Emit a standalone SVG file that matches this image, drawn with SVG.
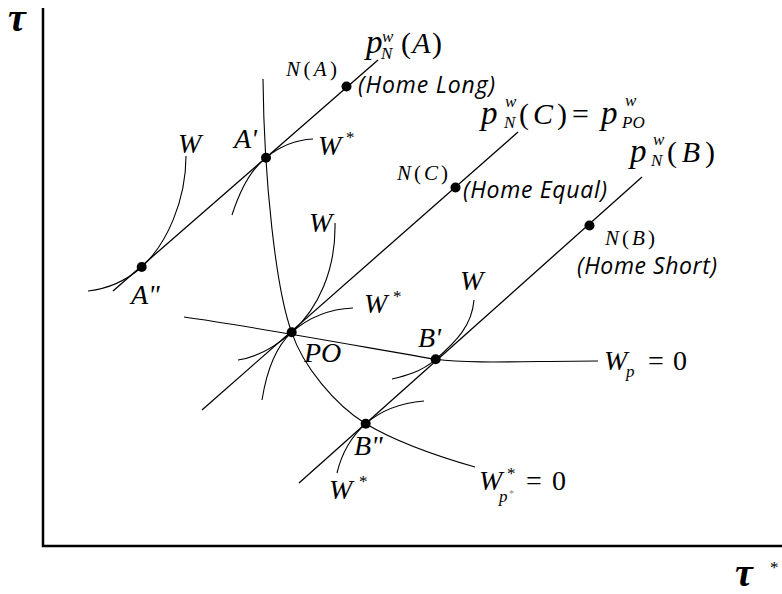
<svg xmlns="http://www.w3.org/2000/svg" width="782" height="594" viewBox="0 0 782 594">
<style>
.bg{fill:#fff}
.ax{stroke:#000;stroke-width:2.5;fill:none}
.ln{stroke:#000;stroke-width:1.3;fill:none}
.cv{stroke:#000;stroke-width:1.1;fill:none}
.dot{fill:#000}
.m{font-family:"Liberation Serif","Times New Roman",serif;font-style:italic;fill:#000}
.r{font-family:"Liberation Serif","Times New Roman",serif;font-style:normal;fill:#000}
.big{font-size:28px}
.pp{font-size:33px}
.par{font-size:30px}
.mid{font-size:21px}
.sm{font-size:17px}
.hs{font-family:"Open Sans","Noto Sans",sans-serif;font-style:italic;font-size:23px;fill:#000}
.tau{font-family:"Liberation Serif","Times New Roman",serif;font-style:italic;font-weight:bold;font-size:40px;fill:#000}
</style>
<rect class="bg" x="0" y="0" width="782" height="594"/>

<g id="axes">
  <path class="ax" d="M43,8 L43,546 L782,546"/>
  <text class="tau" x="8" y="31">τ</text>
  <text class="tau" x="735" y="586">τ</text>
  <text class="r sm" x="770" y="573">*</text>
</g>

<g id="connectors">
  <path id="pA" class="ln" d="M113,291 L378,60"/>
  <path id="pC" class="ln" d="M202,410 L518,132"/>
  <path id="pB" class="ln" d="M299,483 L642,177"/>
  <path id="Wpstar0" class="cv" d="M263,79 C264,180 276,290 291.7,332.3 C303,366 335,405 365.7,423.7 C400,444 440,457 475,467"/>
  <path id="Wp0" class="cv" d="M184,317 C250,326 380,350 435.7,359.3 C470,364 530,361 598,361"/>
  <path id="WstarA1" class="cv" d="M232,215 C240,190 250,170 266,157.7 C280,146 295,140 313,139"/>
  <path id="WA2" class="cv" d="M186,156 C186,200 167,244 141.7,267 C125,282 105,289 88,291"/>
  <path id="WPO" class="cv" d="M335,223 C336,270 318,309 291.7,332.3 C275,347 258,357 238,360"/>
  <path id="WstarPO" class="cv" d="M262,400 C266,375 274,348 291.7,332.3 C308,318 330,309 353,308"/>
  <path id="WB1" class="cv" d="M474,300 C472,325 457,341 435.7,359.3 C421,372 405,376 392,379"/>
  <path id="WstarB2" class="cv" d="M424,401 C400,403 382,409.5 365.7,423.7 C352,436 342,452 337,473"/>
</g>

<g id="node-NA">
  <circle class="dot" cx="346.5" cy="86.5" r="5"/>
  <text class="m mid" x="286" y="76" textLength="51" lengthAdjust="spacing">N<tspan class="r">(</tspan>A<tspan class="r">)</tspan></text>
  <text class="hs" x="358" y="93" textLength="137" lengthAdjust="spacing">(Home Long)</text>
</g>
<g id="label-pA">
  <text class="m pp" x="366" y="53">p</text>
  <text class="m sm" x="382" y="42">w</text>
  <text class="m sm" x="381" y="59">N</text>
  <text class="r par" x="401" y="53" textLength="41" lengthAdjust="spacing">(<tspan class="m">A</tspan>)</text>
</g>

<g id="node-Aprime">
  <circle class="dot" cx="266" cy="157.7" r="5"/>
  <text class="m big" x="234" y="148">A'</text>
  <text class="m big" x="318" y="155">W</text>
  <text class="r sm" x="346" y="143">*</text>
</g>
<g id="node-A2">
  <circle class="dot" cx="141.7" cy="267" r="5"/>
  <text class="m big" x="131" y="304">A"</text>
  <text class="m big" x="178" y="153">W</text>
</g>

<g id="node-NC">
  <circle class="dot" cx="455.5" cy="187.5" r="5"/>
  <text class="m mid" x="397" y="180" textLength="51" lengthAdjust="spacing">N<tspan class="r">(</tspan>C<tspan class="r">)</tspan></text>
  <text class="hs" x="463" y="198" textLength="144" lengthAdjust="spacing">(Home Equal)</text>
</g>
<g id="label-pC">
  <text class="m pp" x="481" y="124">p</text>
  <text class="m sm" x="505" y="107">w</text>
  <text class="m sm" x="504" y="128">N</text>
  <text class="r par" x="519" y="124" textLength="48" lengthAdjust="spacing">(<tspan class="m">C</tspan>)</text>
  <text class="r par" x="572" y="124">=</text>
  <text class="m pp" x="601" y="124">p</text>
  <text class="m sm" x="625" y="106">w</text>
  <text class="m sm" x="622" y="128">PO</text>
</g>

<g id="node-NB">
  <circle class="dot" cx="589.5" cy="225.5" r="5"/>
  <text class="m mid" x="605" y="245" textLength="50" lengthAdjust="spacing">N<tspan class="r">(</tspan>B<tspan class="r">)</tspan></text>
  <text class="hs" x="577" y="274" textLength="140" lengthAdjust="spacing">(Home Short)</text>
</g>
<g id="label-pB">
  <text class="m pp" x="630" y="162">p</text>
  <text class="m sm" x="653" y="145">w</text>
  <text class="m sm" x="651" y="166">N</text>
  <text class="r par" x="667" y="162" textLength="48" lengthAdjust="spacing">(<tspan class="m">B</tspan>)</text>
</g>

<g id="node-PO">
  <circle class="dot" cx="291.7" cy="332.3" r="5"/>
  <text class="m big" x="304" y="362">PO</text>
  <text class="m big" x="309" y="232">W</text>
  <text class="m big" x="364" y="313">W</text>
  <text class="r sm" x="393" y="302">*</text>
</g>

<g id="node-Bprime">
  <circle class="dot" cx="435.7" cy="359.3" r="5"/>
  <text class="m big" x="418" y="347">B'</text>
  <text class="m big" x="460" y="290">W</text>
</g>
<g id="label-Wp">
  <text class="m big" x="604" y="370">W</text>
  <text class="m sm" x="626" y="377">p</text>
  <text class="r big" x="648" y="370">=</text>
  <text class="r big" x="673" y="370">0</text>
</g>

<g id="node-B2">
  <circle class="dot" cx="365.7" cy="423.7" r="5"/>
  <text class="m big" x="354" y="455">B"</text>
  <text class="m big" x="329" y="499">W</text>
  <text class="r sm" x="359" y="487">*</text>
</g>
<g id="label-Wpstar">
  <text class="m big" x="479" y="490">W</text>
  <text class="r sm" x="507" y="479">*</text>
  <text class="m sm" x="499" y="502">p</text>
  <text class="r" style="font-size:10px;fill:#888" x="509" y="497">*</text>
  <text class="r big" x="526" y="490">=</text>
  <text class="r big" x="552" y="490">0</text>
</g>
</svg>
